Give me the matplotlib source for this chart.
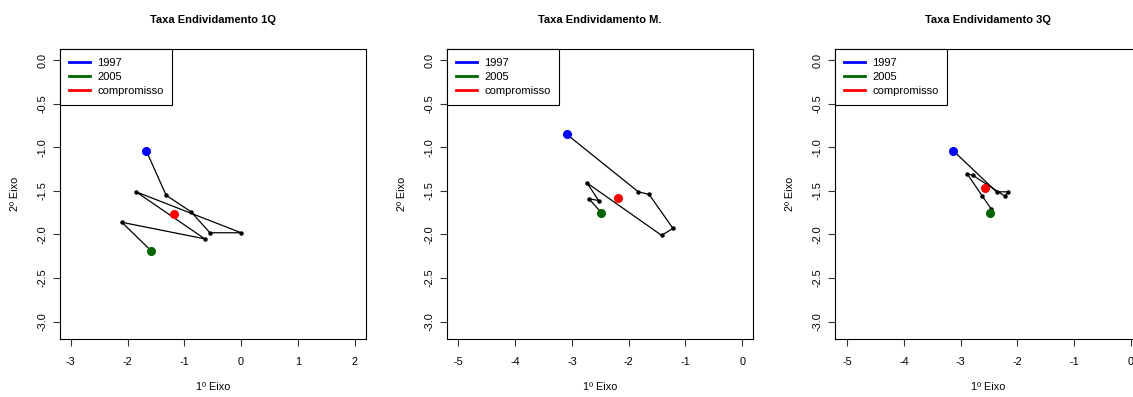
import numpy as np
import matplotlib.pyplot as plt
from matplotlib.lines import Line2D

plt.rcParams["font.family"] = ["Liberation Sans", "DejaVu Sans"]
plt.rcParams["axes.unicode_minus"] = False

titles = ["Taxa Endividamento 1Q", "Taxa Endividamento M.", "Taxa Endividamento 3Q"]

# trajectories 1997..2005 on the first two axes
x_1q = [-1.67, -1.32, -0.88, -0.55, 0.00, -1.85, -0.64, -2.10, -1.58]
y_1q = [-1.04, -1.55, -1.74, -1.98, -1.98, -1.51, -2.05, -1.86, -2.19]
comp_1q = (-1.18, -1.77)

x_m = [-3.09, -1.83, -1.64, -1.22, -1.42, -2.73, -2.53, -2.70, -2.48]
y_m = [-0.85, -1.51, -1.54, -1.93, -2.01, -1.41, -1.61, -1.59, -1.75]
comp_m = (-2.18, -1.58)

x_3q = [-3.13, -2.37, -2.16, -2.22, -2.79, -2.89, -2.62, -2.46, -2.48]
y_3q = [-1.04, -1.51, -1.51, -1.56, -1.32, -1.30, -1.56, -1.71, -1.75]
comp_3q = (-2.57, -1.47)

series = [(x_1q, y_1q, comp_1q), (x_m, y_m, comp_m), (x_3q, y_3q, comp_3q)]
xlims = [(-3.19, 2.2), (-5.2, 0.19), (-5.22, 0.18)]
xticks = [np.arange(-3, 3), np.arange(-5, 1), np.arange(-5, 1)]
lefts = [60, 447, 835]

W, H = 1133, 397
fig = plt.figure(figsize=(W / 100, H / 100), dpi=100)

for i in range(3):
    ax = fig.add_axes([lefts[i] / W, (H - 339) / H, 306 / W, 290 / H])
    xs, ys, comp = series[i]
    ax.plot(xs, ys, color="black", lw=0.9, marker="o", ms=2.2, zorder=2)
    ax.plot(xs[0], ys[0], "o", color="#0000FF", ms=5.5, zorder=3)
    ax.plot(xs[-1], ys[-1], "o", color="#006400", ms=5.5, zorder=3)
    ax.plot(comp[0], comp[1], "o", color="#FF0000", ms=5.5, zorder=3)

    ax.set_xlim(*xlims[i])
    ax.set_ylim(-3.2, 0.13)
    ax.set_xticks(xticks[i])
    ax.set_yticks(np.arange(-3.0, 0.01, 0.5))
    ax.set_yticklabels(["%.1f" % v for v in np.arange(-3.0, 0.01, 0.5)],
                       rotation=90, va="center")
    ax.tick_params(direction="out", length=5, width=0.8, labelsize=7.8, color="#333333")
    ax.tick_params(axis="x", pad=8)
    ax.tick_params(axis="y", pad=4)
    for s in ax.spines.values():
        s.set_linewidth(0.8)

    ax.set_title(titles[i], fontsize=8, fontweight="bold", pad=19)
    ax.set_xlabel("1º Eixo", fontsize=7.8)
    ax.set_ylabel("2º Eixo", fontsize=7.8)
    ax.xaxis.set_label_coords(0.5, -0.15)
    ax.yaxis.set_label_coords(-0.13, 0.5)

    handles = [Line2D([], [], color=c, lw=2) for c in ("#0000FF", "#006400", "#FF0000")]
    leg = ax.legend(handles, ["1997", "2005", "compromisso"], loc="upper left",
                    borderaxespad=0, fontsize=8, fancybox=False, framealpha=1,
                    handlelength=1.9, handletextpad=0.65, labelspacing=0.35,
                    borderpad=0.8)
    leg.get_frame().set_edgecolor("black")
    leg.get_frame().set_linewidth(0.8)

fig.savefig("out.png", dpi=100)
